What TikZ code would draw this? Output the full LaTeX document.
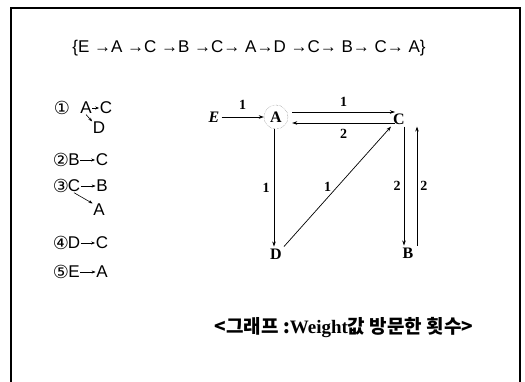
\documentclass[tikz,border=0pt]{standalone}
\usepackage{fontspec}
\setmainfont{Liberation Serif}
\setsansfont{Liberation Sans}
\newfontfamily\circfont{DejaVu Sans}
\newfontfamily\krfont{Noto Sans CJK KR}
\usetikzlibrary{positioning, arrows.meta}

\begin{document}
\begin{tikzpicture}[
    x=1pt, y=-1pt,
    >={Stealth[length=5pt,width=3.5pt]},
    seq/.style={font=\sffamily\fontsize{17}{17}\selectfont, inner sep=0pt},
    item/.style={font=\sffamily\fontsize{17}{17}\selectfont, inner sep=0.5pt},
    num/.style={font=\circfont\fontsize{18}{18}\selectfont, inner sep=0pt},
    vertex/.style={font=\bfseries\fontsize{16}{16}\selectfont, inner sep=2pt},
    weight/.style={font=\bfseries\fontsize{14}{14}\selectfont, inner sep=1pt},
    caption/.style={font=\fontsize{19}{19}\selectfont, inner sep=0pt},
    arrow/.style={->, line width=0.7pt, draw=black},
    small/.style={-{Stealth[length=4pt,width=3pt]}, line width=0.6pt}
]
\useasboundingbox (0,0) rectangle (525,382);
\draw[line width=1.1pt] (11,382) -- (11,8) -- (520,8) -- (520,382);

% Visit sequence
\node[seq] (seq) at (249,48) {\{E →A →C →B →C→ A→D →C→ B→ C→ A\}};

% List
\node[num] (n1) at (62,108) {①};
\node[item] (a1) at (86,108) {A};
\node[item] (c1) at (106,108) {C};
\node[item] (d1) at (99,128) {D};
\node[num] (n2) at (61,160) {②};
\node[item] (b2) at (74,160) {B};
\node[item] (c2) at (102,160) {C};
\node[num] (n3) at (61,186) {③};
\node[item] (c3) at (74,186) {C};
\node[item] (b3) at (102,186) {B};
\node[item] (a3) at (99,210) {A};
\node[num] (n4) at (61,243) {④};
\node[item] (d4) at (74,243) {D};
\node[item] (c4) at (102,243) {C};
\node[num] (n5) at (61,272) {⑤};
\node[item] (e5) at (74,272) {E};
\node[item] (a5) at (102,272) {A};

\draw[small] (a1) -- (c1);
\draw[small] (a1.south) -- (d1.north west);
\draw[small] (b2) -- (c2);
\draw[small] (c3) -- (b3);
\draw[small] (c3.south) -- (a3.north west);
\draw[small] (d4) -- (c4);
\draw[small] (e5) -- (a5);

% Graph nodes
\node[vertex] (E) at (214,117) {\textit{E}};
\node[vertex, circle, draw=black!60, densely dotted, minimum size=24pt] (A) at (276,117) {A};
\node[vertex] (C) at (399,119) {C};
\node[vertex] (D) at (276,254) {D};
\node[vertex] (B) at (408,253) {B};

% Graph edges
\draw[arrow] (E) -- node[weight, above=6pt] {1} (A);
\draw[arrow] ([shift={(4pt,5pt)}]A.east) -- ([shift={(4pt,5pt)}]A.east -| C.west)
    node[weight, midway, above=4pt] {1};
\draw[arrow] ([shift={(4pt,-6pt)}]A.east -| C.west) -- ([shift={(4pt,-6pt)}]A.east)
    node[weight, midway, below=5pt] {2};
\draw[arrow] ([xshift=-2pt]A.south) -- ([xshift=-2pt]A.south |- D.north)
    node[weight, midway, left=3pt] {1};
\draw[arrow] (D.north east) -- (C.south west)
    node[weight, midway, left=5pt] {1};
\draw[arrow] ([xshift=-4pt]B.north |- C.south) -- ([xshift=-4pt]B.north)
    node[weight, midway, left=2pt] {2};
\draw[arrow] ([xshift=9pt]B.north) -- ([xshift=9pt]B.north |- C.south)
    node[weight, midway, right=2pt] {2};

% Caption
\node[caption] (cap) at (344,328) {{\krfont\bfseries <그래프 :}{\rmfamily\bfseries Weight}{\krfont\bfseries 값 방문한 횟수>}};
\end{tikzpicture}
\end{document}
